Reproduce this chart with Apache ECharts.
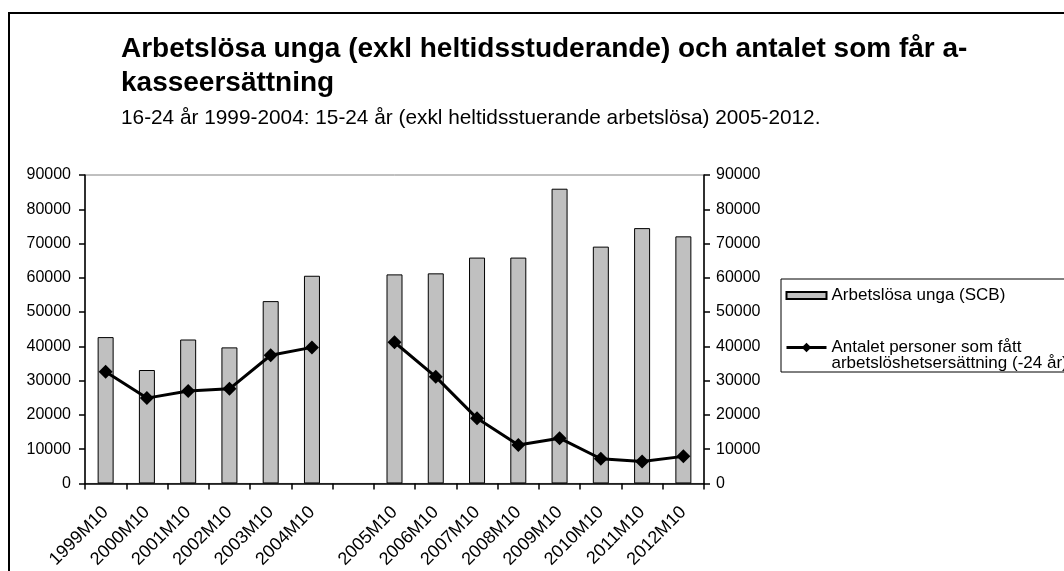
<!DOCTYPE html>
<html>
<head>
<meta charset="utf-8">
<script src="https://cdn.jsdelivr.net/npm/echarts@6/dist/echarts.min.js"></script>
<style>
  html, body { margin: 0; padding: 0; background: #fff; }
  #myChart { width: 1064px; height: 571px; }
</style>
</head>
<body>
<div id="myChart"></div>
<script>
// kategorier (tom plats mellan 2004 och 2005)
var categories = ['1999M10', '2000M10', '2001M10', '2002M10', '2003M10', '2004M10', '',
    '2005M10', '2006M10', '2007M10', '2008M10', '2009M10', '2010M10', '2011M10', '2012M10'];
// Arbetslösa unga (SCB) - staplar
var arbetslosaUnga = [42700, 33100, 42000, 39700, 53200, 60600, null,
    61000, 61300, 65900, 65900, 86000, 69100, 74500, 72100];
// Antalet personer som fått arbetslöshetsersättning - linje
var ersattning = [32600, 24900, 27000, 27600, 37400, 39700, null,
    41200, 31100, 19000, 11200, 13200, 7200, 6400, 7900];
var yTicks = [0, 10000, 20000, 30000, 40000, 50000, 60000, 70000, 80000, 90000];

var barName = 'Arbetslösa unga (SCB)';
var lineName = 'Antalet personer som fått\narbetslöshetsersättning (-24 år)';
var font = "'Liberation Sans', Arial, sans-serif";

var chart = echarts.init(document.getElementById('myChart'));

function valueAxis(pos, margin) {
    return {
        type: 'value',
        position: pos,
        min: yTicks[0],
        max: yTicks[yTicks.length - 1],
        interval: yTicks[1] - yTicks[0],
        axisLine: { show: true, lineStyle: { color: '#000', width: 1.5 } },
        axisTick: { show: true, length: 6, lineStyle: { color: '#000', width: 1.5 } },
        axisLabel: {
            color: '#000', fontSize: 16, fontFamily: font, margin: margin,
            formatter: function (v) { return String(v); }
        },
        splitLine: { show: false }
    };
}

chart.setOption({
    animation: false,
    backgroundColor: '#fff',
    title: {
        text: 'Arbetslösa unga (exkl heltidsstuderande) och antalet som får a-\nkasseersättning',
        subtext: '16-24 år 1999-2004: 15-24 år (exkl heltidsstuerande arbetslösa) 2005-2012.',
        left: 121,
        top: 32,
        padding: 0,
        itemGap: 7,
        textStyle: { color: '#000', fontSize: 28, fontWeight: 'bold', fontFamily: font, lineHeight: 34 },
        subtextStyle: { color: '#000', fontSize: 20.8, fontFamily: font, lineHeight: 22 }
    },
    legend: {
        orient: 'vertical',
        left: 781,
        top: 279,
        padding: [8, 0, 0, 4],
        itemGap: 19,
        itemWidth: 40,
        itemHeight: 12,
        borderColor: '#000',
        borderWidth: 1,
        borderRadius: 0,
        textStyle: { color: '#000', fontSize: 17, fontFamily: font, lineHeight: 16 },
        formatter: function (name) {
            // tom rad först så att ikonen hamnar vid första textraden
            return name === lineName ? '\u00a0\n' + name : name;
        },
        data: [
            { name: barName, icon: 'path://M0,0H40V7H0Z' },
            { name: lineName, lineStyle: { color: '#000', width: 3 }, itemStyle: { color: '#000' } }
        ]
    },
    grid: {
        left: 85,
        right: 360,
        top: 175,
        bottom: 87,
        show: true,
        borderColor: '#808080',
        borderWidth: 1
    },
    xAxis: {
        type: 'category',
        data: categories,
        boundaryGap: true,
        axisLine: { lineStyle: { color: '#000', width: 1.5 } },
        axisTick: { show: true, length: 6, interval: 0, lineStyle: { color: '#000', width: 1.5 } },
        axisLabel: { color: '#000', fontSize: 18, fontFamily: font, rotate: 45, interval: 0, margin: 26 }
    },
    yAxis: [valueAxis('left', 14), valueAxis('right', 12)],
    graphic: [
        {
            // yttre ram
            type: 'rect',
            silent: true,
            shape: { x: 9, y: 13, width: 1100, height: 600 },
            style: { fill: 'none', stroke: '#000', lineWidth: 2 }
        }
    ],
    series: [
        {
            name: barName,
            type: 'bar',
            yAxisIndex: 0,
            barWidth: 16,
            data: arbetslosaUnga,
            itemStyle: { color: '#c0c0c0', borderColor: '#000', borderWidth: 1 }
        },
        {
            name: lineName,
            type: 'line',
            yAxisIndex: 1,
            data: ersattning,
            connectNulls: false,
            symbol: 'diamond',
            symbolSize: 14,
            lineStyle: { color: '#000', width: 3 },
            itemStyle: { color: '#000' }
        }
    ]
});
</script>
</body>
</html>
